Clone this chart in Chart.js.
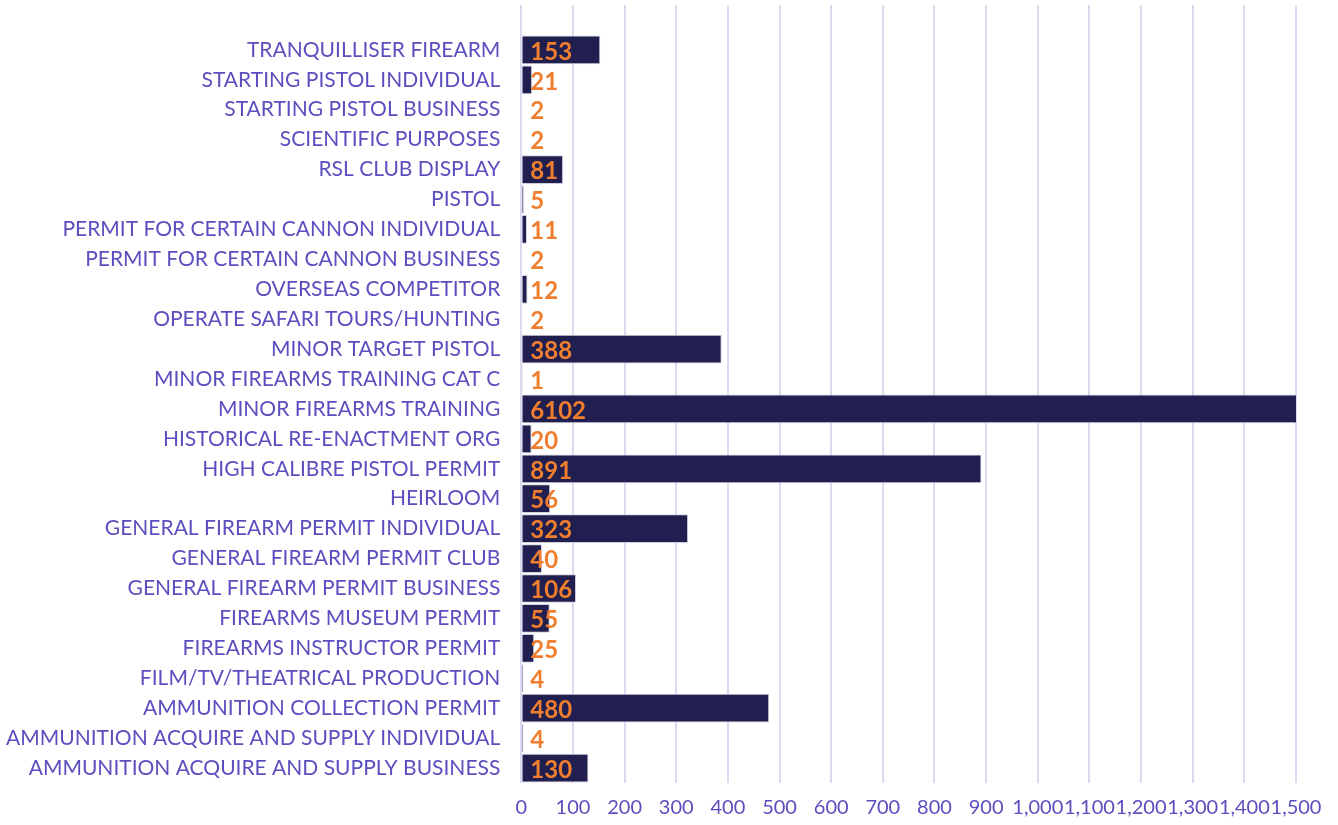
<!DOCTYPE html>
<html lang="en">
  <head>
    <meta charset="utf-8" />
    <title>Permits by type</title>
    <style>
      * {
        margin: 0;
        padding: 0;
      }
      body {
        background: white;
      }
      .chartBox {
        width: 1338px;
        height: 825px;
      }
    </style>
  </head>
  <body>
    <div class="chartBox">
      <canvas id="myChart"></canvas>
    </div>

    <script src="https://cdn.jsdelivr.net/npm/chart.js"></script>

    <script>
      // first entry is the empty row at the top, like in the source chart
      const permitTypes = [
        "",
        "TRANQUILLISER FIREARM",
        "STARTING PISTOL INDIVIDUAL",
        "STARTING PISTOL BUSINESS",
        "SCIENTIFIC PURPOSES",
        "RSL CLUB DISPLAY",
        "PISTOL",
        "PERMIT FOR CERTAIN CANNON INDIVIDUAL",
        "PERMIT FOR CERTAIN CANNON BUSINESS",
        "OVERSEAS COMPETITOR",
        "OPERATE SAFARI TOURS/HUNTING",
        "MINOR TARGET PISTOL",
        "MINOR FIREARMS TRAINING CAT C",
        "MINOR FIREARMS TRAINING",
        "HISTORICAL RE-ENACTMENT ORG",
        "HIGH CALIBRE PISTOL PERMIT",
        "HEIRLOOM",
        "GENERAL FIREARM PERMIT INDIVIDUAL",
        "GENERAL FIREARM PERMIT CLUB",
        "GENERAL FIREARM PERMIT BUSINESS",
        "FIREARMS MUSEUM PERMIT",
        "FIREARMS INSTRUCTOR PERMIT",
        "FILM/TV/THEATRICAL PRODUCTION",
        "AMMUNITION COLLECTION PERMIT",
        "AMMUNITION ACQUIRE AND SUPPLY INDIVIDUAL",
        "AMMUNITION ACQUIRE AND SUPPLY BUSINESS",
      ];
      const permitCounts = [
        null, 153, 21, 2, 2, 81, 5, 11, 2, 12, 2, 388, 1, 6102, 20, 891, 56,
        323, 40, 106, 55, 25, 4, 480, 4, 130,
      ];
      const axisMin = 0;
      const axisMax = 1500;
      const axisStep = 100;

      const textColor = "#5b4fbf";
      const labelColor = "#ef7f2e";
      const fontFamily = "Lato, 'Open Sans', sans-serif";

      // value labels, drawn at the start of each bar
      const valueLabels = {
        id: "valueLabels",
        afterDatasetsDraw(chart) {
          const { ctx } = chart;
          const meta = chart.getDatasetMeta(0);
          ctx.save();
          ctx.font = "bold 24px " + fontFamily;
          ctx.fillStyle = labelColor;
          ctx.textAlign = "left";
          ctx.textBaseline = "middle";
          meta.data.forEach((bar, i) => {
            const v = permitCounts[i];
            if (v === null) return;
            ctx.fillText(String(v), bar.base + 8, bar.y + 2);
          });
          ctx.restore();
        },
      };

      const config = {
        type: "bar",
        data: {
          labels: permitTypes,
          datasets: [
            {
              data: permitCounts,
              backgroundColor: "#201f4f",
              borderColor: "#cfcfdc",
              borderWidth: 1,
              barPercentage: 0.96,
              categoryPercentage: 1,
            },
          ],
        },
        options: {
          indexAxis: "y",
          responsive: true,
          maintainAspectRatio: false,
          animation: false,
          layout: {
            padding: { left: 6, right: 42, top: 5, bottom: 5 },
          },
          plugins: {
            legend: { display: false },
            tooltip: { enabled: false },
          },
          scales: {
            x: {
              min: axisMin,
              max: axisMax,
              border: { display: false },
              grid: {
                color: "#dcd9f0",
                lineWidth: 2,
                drawTicks: false,
              },
              ticks: {
                stepSize: axisStep,
                autoSkip: false,
                maxRotation: 0,
                padding: 13,
                color: textColor,
                font: { family: fontFamily, size: 20 },
              },
              afterFit(scale) {
                scale.height = 37;
              },
            },
            y: {
              border: { display: false },
              // tick marks are hidden, their length gives the gap before the bars
              grid: { display: false, tickLength: 21 },
              ticks: {
                autoSkip: false,
                padding: 0,
                color: textColor,
                font: { family: fontFamily, size: 21 },
              },
              afterFit(scale) {
                // no extra room above/below for the first and last label
                scale.paddingTop = 0;
                scale.paddingBottom = 0;
              },
            },
          },
        },
        plugins: [valueLabels],
      };

      const myChart = new Chart(document.getElementById("myChart"), config);
    </script>
  </body>
</html>
